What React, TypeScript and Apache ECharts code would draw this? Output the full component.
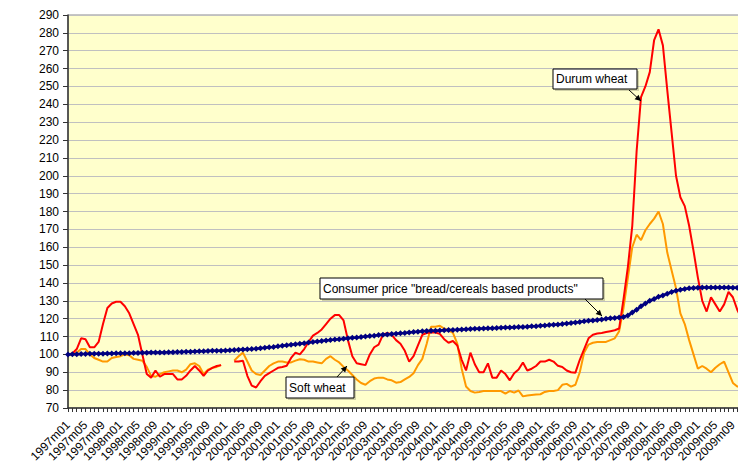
import React, { useEffect, useRef } from "react";
import * as echarts from "echarts";

// Categories: monthly from 1997m01 to 2009m12
const years = ["1997","1998","1999","2000","2001","2002","2003","2004","2005","2006","2007","2008","2009"];
const monthCodes = ["m01","m02","m03","m04","m05","m06","m07","m08","m09","m10","m11","m12"];
const categories: string[] = [];
years.forEach((y) => monthCodes.forEach((m) => categories.push(y + m)));

// Y axis ticks
const yMin = 70;
const yMax = 290;
const yStep = 10;

const durumWheat: (number | null)[] = [
  100, 100.5, 103, 109, 108.5, 104, 104, 107, 117, 126, 128.5, 129.5,
  129.5, 127, 123, 117, 111, 100, 89, 87, 91, 87.5, 89, 89,
  89, 86, 86, 88, 91, 93.5, 91, 88, 91, 92.5, 93.5, 94,
  null, null, 96, 96, 96.5, 88, 82.5, 81.5, 85, 88, 89.5, 91,
  92.5, 93, 93.6, 98, 101, 100, 103, 107, 110.5, 112, 114, 117,
  120, 122, 122, 119, 108, 99, 95, 94.5, 94, 100, 104, 105.5,
  111, 112, 111, 108, 106, 102, 96, 99, 105, 111, 112, 112.3,
  112.3, 111.5, 108.5, 106.5, 107.5, 105, 97, 91, 101, 94.5, 90, 90,
  95, 87, 87, 91, 89, 85.5, 89.5, 91.5, 95.5, 91, 92, 93.5,
  96, 96, 97, 96, 93.6, 93, 91, 90, 89.8, 97, 103, 109,
  111, 111.7, 112, 112.5, 113, 113.5, 114.5, 131, 149, 172, 214, 244,
  250, 258, 276, 282, 273, 248, 224, 200, 188, 183, 172, 158,
  143, 130, 124, 132, 128, 124, 128, 135, 132, 125, 120, 118,
];

const softWheat: (number | null)[] = [
  100, 100, 101, 103, 103, 100, 98, 97, 96, 96, 98, 98.5,
  99, 100, 99.5, 97.5, 97, 96.5, 93, 88, 87.5, 89, 90, 90.5,
  91, 91, 90, 91.5, 94.5, 95, 93.5, 89, 91.5, 92.5, 93, 94,
  null, null, 96.5, 99, 101, 96, 91, 89, 88.5, 91, 93.5, 95,
  96, 96, 95.5, 95.5, 96.5, 97.3, 97, 96, 96, 95.5, 95, 97.5,
  99, 97, 95.5, 93, 91, 88.5, 86, 84, 83, 85, 86.5, 87,
  87, 86, 85.5, 84.2, 84.5, 86, 87.4, 89.5, 94, 97.5, 106, 115.5,
  115.5, 116, 114.5, 113.5, 112, 106, 92, 82, 79.5, 78.6, 79, 79.5,
  79.5, 79.5, 79.5, 79.5, 78, 79.5, 78.6, 79.8, 76.5, 77, 77.3, 77.5,
  77.7, 79, 79.5, 79.5, 80, 83, 83.5, 82, 83, 90, 101, 105.5,
  106.5, 107, 107, 107, 108, 109, 113, 126, 143, 160, 167, 164,
  169.5, 173, 176, 180, 173, 157, 147, 137, 123, 117, 108, 100,
  92, 93.5, 92, 90, 92.5, 94.5, 96, 90, 84, 82, 82, 82,
];

const consumerPrice: number[] = [
  100.0, 100.1, 100.1, 100.2, 100.2, 100.3, 100.3, 100.4, 100.4, 100.5, 100.5, 100.6,
  100.6, 100.7, 100.7, 100.8, 100.8, 100.9, 100.9, 101.0, 101.0, 101.1, 101.1, 101.2,
  101.2, 101.3, 101.4, 101.5, 101.5, 101.6, 101.7, 101.8, 101.9, 102.0, 102.0, 102.1,
  102.2, 102.3, 102.4, 102.6, 102.7, 102.9, 103.0, 103.2, 103.5, 103.7, 104.0, 104.2,
  104.5, 104.8, 105.1, 105.4, 105.7, 106.0, 106.3, 106.6, 106.9, 107.2, 107.5, 107.8,
  108.0, 108.3, 108.5, 108.8, 109.0, 109.3, 109.5, 109.8, 110.0, 110.3, 110.5, 110.8,
  111.0, 111.2, 111.4, 111.6, 111.8, 112.0, 112.3, 112.5, 112.7, 112.9, 113.1, 113.2,
  113.3, 113.4, 113.5, 113.6, 113.7, 113.8, 114.0, 114.1, 114.2, 114.3, 114.4, 114.5,
  114.6, 114.7, 114.8, 114.9, 115.0, 115.1, 115.2, 115.3, 115.4, 115.5, 115.7, 115.8,
  116.0, 116.2, 116.4, 116.6, 116.8, 117.0, 117.3, 117.6, 117.9, 118.2, 118.5, 118.8,
  119.0, 119.3, 119.6, 119.9, 120.2, 120.4, 120.6, 121.0, 121.8, 123.5, 125.0, 127.0,
  128.5, 130.0, 131.0, 132.3, 133.0, 134.0, 135.0, 135.7, 136.2, 136.6, 137.0, 137.2,
  137.3, 137.4, 137.4, 137.4, 137.5, 137.5, 137.4, 137.4, 137.3, 137.3, 137.2, 137.2,
];

const seriesNames = ["Durum wheat", "Soft wheat", 'Consumer price "bread/cereals based products"'];

const FONT = "Liberation Sans, Arial, sans-serif";

function arrowHead(x1: number, y1: number, x2: number, y2: number) {
  const ang = Math.atan2(y2 - y1, x2 - x1);
  const len = 6;
  const w = 3;
  const bx = x2 - len * Math.cos(ang);
  const by = y2 - len * Math.sin(ang);
  const px = -Math.sin(ang) * w;
  const py = Math.cos(ang) * w;
  return {
    type: "polygon",
    shape: { points: [[x2, y2], [bx + px, by + py], [bx - px, by - py]] },
    style: { fill: "#000" },
    z: 100,
  };
}

function label(x: number, y: number, w: number, h: number, text: string, ax1: number, ay1: number, ax2: number, ay2: number) {
  return [
    {
      type: "rect",
      shape: { x: x + 2, y: y + 2, width: w, height: h },
      style: { fill: "rgba(0,0,0,0.18)" },
      z: 98,
    },
    {
      type: "rect",
      shape: { x, y, width: w, height: h },
      style: { fill: "#fff", stroke: "#000", lineWidth: 1 },
      z: 99,
    },
    {
      type: "text",
      x: x + 3,
      y: y + h / 2,
      style: { text, fill: "#000", font: `12px ${FONT}`, verticalAlign: "middle", align: "left" },
      z: 100,
    },
    {
      type: "line",
      shape: { x1: ax1, y1: ay1, x2: ax2, y2: ay2 },
      style: { stroke: "#000", lineWidth: 1 },
      z: 100,
    },
    arrowHead(ax1, ay1, ax2, ay2),
  ];
}

export default function App() {
  const ref = useRef<HTMLDivElement>(null);
  useEffect(() => {
    if (!ref.current) return;
    const chart = echarts.init(ref.current, undefined, { renderer: "svg" });
    chart.setOption({
      animation: false,
      backgroundColor: "#fff",
      grid: {
        left: 68,
        top: 15,
        bottom: 57,
        right: -8,
        containLabel: false,
        outerBoundsMode: "none",
        show: true,
        backgroundColor: "#FFFFCC",
        borderColor: "#8c8c8c",
        borderWidth: 1,
      },
      xAxis: {
        type: "category",
        data: categories,
        boundaryGap: false,
        axisLine: { show: true, lineStyle: { color: "#333", width: 1.5 } },
        axisTick: { show: true, interval: 0, length: 4, lineStyle: { color: "#333" } },
        axisLabel: {
          interval: 3,
          rotate: 45,
          margin: 15,
          color: "#000",
          fontSize: 12,
          fontFamily: FONT,
        },
        splitLine: { show: false },
      },
      yAxis: {
        type: "value",
        min: yMin,
        max: yMax,
        interval: yStep,
        axisLine: { show: true, lineStyle: { color: "#333", width: 1.5 } },
        axisTick: { show: true, length: 5, lineStyle: { color: "#333" } },
        axisLabel: { color: "#000", fontSize: 12, fontFamily: FONT, margin: 9 },
        splitLine: { show: true, lineStyle: { color: "#c0c0c0", width: 1 } },
      },
      series: [
        {
          name: seriesNames[0],
          type: "line",
          data: durumWheat,
          showSymbol: false,
          symbol: "none",
          connectNulls: false,
          lineStyle: { color: "#FF0000", width: 2 },
          itemStyle: { color: "#FF0000" },
          z: 3,
        },
        {
          name: seriesNames[1],
          type: "line",
          data: softWheat,
          showSymbol: false,
          symbol: "none",
          connectNulls: false,
          lineStyle: { color: "#FF9900", width: 2 },
          itemStyle: { color: "#FF9900" },
          z: 2,
        },
        {
          name: seriesNames[2],
          type: "line",
          data: consumerPrice,
          symbol: "diamond",
          symbolSize: 6,
          showAllSymbol: true,
          lineStyle: { color: "#000080", width: 2.5 },
          itemStyle: { color: "#000080" },
          z: 4,
        },
      ],
      graphic: [
        ...label(553, 69, 84, 20, seriesNames[0], 629, 90, 641, 101),
        ...label(320, 278, 283, 21, seriesNames[2], 585, 299, 602, 316),
        ...label(286, 377, 68, 21, seriesNames[1], 337, 377, 347, 366),
      ],
    });
    return () => chart.dispose();
  }, []);
  return (
    <div
      ref={ref}
      style={{ position: "absolute", left: 0, top: 0, width: 738, height: 465 }}
    />
  );
}
